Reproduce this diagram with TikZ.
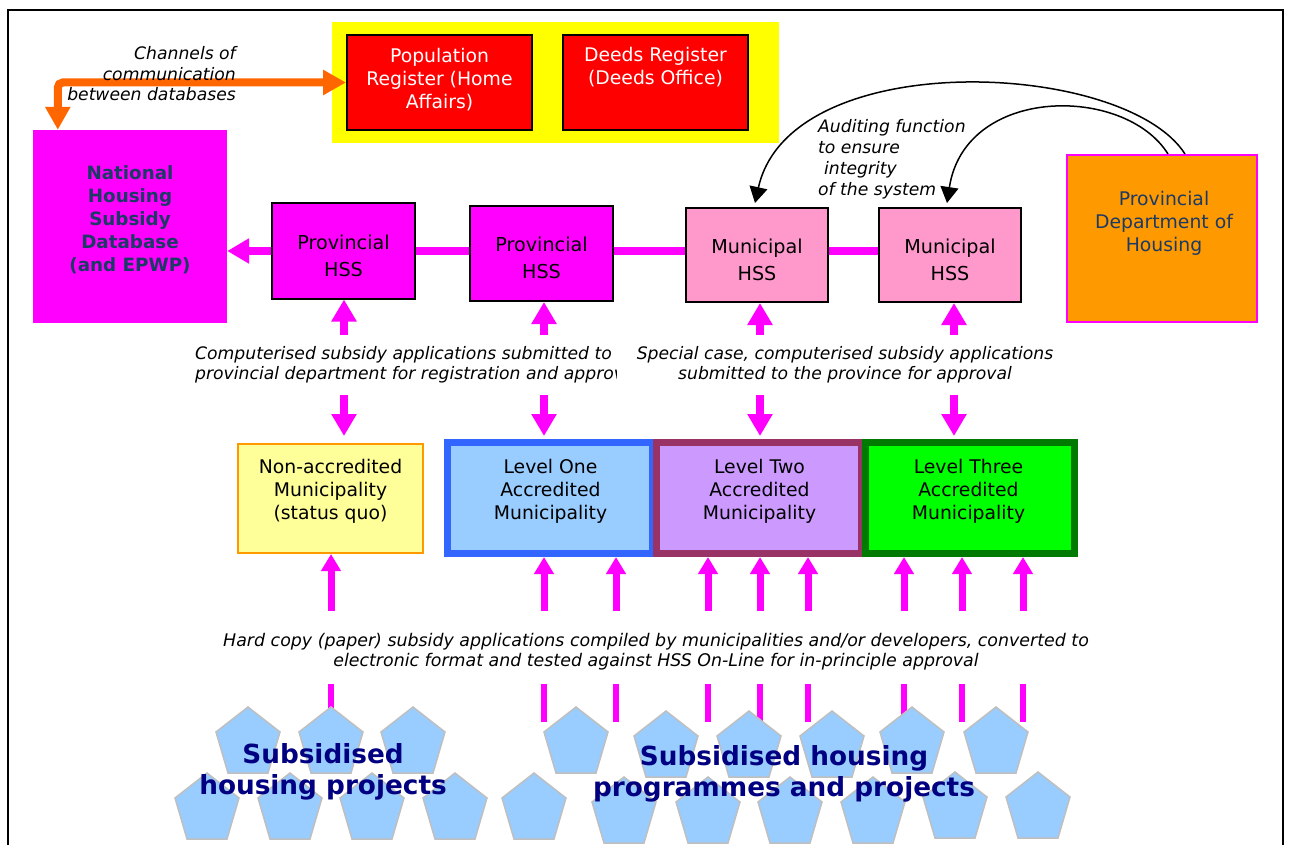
\documentclass[tikz,border=0pt]{standalone}
\usepackage{fontspec}
\setmainfont{DejaVu Sans}
\usetikzlibrary{arrows.meta,calc}

\definecolor{magentaC}{HTML}{FF00FF}
\definecolor{pinkC}{HTML}{FF99CC}
\definecolor{orangeC}{HTML}{FF9900}
\definecolor{arrowOrange}{HTML}{FF6600}
\definecolor{redC}{HTML}{FF0000}
\definecolor{yellowC}{HTML}{FFFF00}
\definecolor{paleYellow}{HTML}{FFFF99}
\definecolor{skyC}{HTML}{99CCFF}
\definecolor{lavenderC}{HTML}{CC99FF}
\definecolor{limeC}{HTML}{00FF00}
\definecolor{blueEdge}{HTML}{3366FF}
\definecolor{plumEdge}{HTML}{993366}
\definecolor{greenEdge}{HTML}{007A00}
\definecolor{navyText}{HTML}{000080}
\definecolor{slateText}{HTML}{1C3A66}
\definecolor{pentEdge}{HTML}{BFBFBF}

\tikzset{
  housepent/.pic={
    \filldraw[draw=pentEdge, fill=skyC, line width=1.5pt]
      (0,0) -- (32,25) -- (20,66) -- (-20,66) -- (-32,25) -- cycle;
  }
}

\begin{document}
\begin{tikzpicture}[x=1pt,y=-1pt,
  plain/.style={inner sep=0pt},
  regbox/.style={plain, draw=black, line width=2pt, fill=redC, minimum width=185pt, minimum height=95pt},
  hssbox/.style={plain, draw=black, line width=2pt, minimum width=143pt, minimum height=95pt},
  lvlbox/.style={plain, line width=7pt, minimum width=205pt, minimum height=111pt},
  rtxt/.style={plain, align=center, font=\fontsize{18.8}{23}\selectfont},
  htxt/.style={plain, align=center, font=\fontsize{19.2}{27}\selectfont},
  itxt/.style={plain, font=\fontsize{17.2}{20.5}\selectfont\itshape},
  bigtxt/.style={plain, align=center, text=navyText, font=\fontsize{26.3}{31}\selectfont\bfseries},
  magbar/.style={draw=magentaC, line width=8pt},
  magup/.style={magbar, -{Triangle[length=22pt,width=24pt]}},
  maglow/.style={draw=magentaC, line width=7pt, -{Triangle[length=17pt,width=19pt]}},
  stub/.style={draw=magentaC, line width=6.5pt},
  audit/.style={draw=black, line width=1.5pt, -{Triangle[length=16pt,width=18pt]}},
  chan/.style={draw=arrowOrange, line width=8pt, rounded corners=5pt,
    {Triangle[length=23pt,width=24pt]}-{Triangle[length=23pt,width=24pt]}}
]
\useasboundingbox (0,0) rectangle (1291,845);

% frame (open at the bottom)
\draw[line width=2.5pt] (8,846) -- (8,10) -- (1283,10) -- (1283,846);

% external registers
\node[plain, fill=yellowC, minimum width=447pt, minimum height=121pt] (dbs) at (555.5,82.5) {};
\node[regbox] (popreg) at (439.5,82.5) {};
\node[rtxt, text=white] (popregt) at (439.5,79.5) {Population\\Register (Home\\Affairs)};
\node[regbox] (deeds) at (655.5,82.5) {};
\node[rtxt, text=white] (deedst) at (655.5,67) {Deeds Register\\(Deeds Office)};

% national database
\node[plain, fill=magentaC, minimum width=194pt, minimum height=193pt] (nhsd) at (130,226.5) {};
\node[plain, align=center, text=slateText, font=\fontsize{18.3}{23}\selectfont\bfseries] (nhsdt) at (130,220)
  {National\\Housing\\Subsidy\\Database\\(and EPWP)};

% channels of communication
\draw[chan] (popreg.west) -| ($(nhsd.north west)+(25,0)$);
\node[itxt, align=right, anchor=east] (chantxt) at (236,73.6) {Channels of\\communication\\between databases};

% HSS row
\node[hssbox, fill=magentaC] (phss1) at (343.5,251) {};
\node[htxt] (phss1t) at (343.5,256) {Provincial\\HSS};
\node[hssbox, fill=magentaC] (phss2) at (541.5,253.5) {};
\node[htxt] (phss2t) at (541.5,258) {Provincial\\HSS};
\node[hssbox, fill=pinkC, minimum width=142pt, minimum height=94pt] (mhss1) at (757,255) {};
\node[htxt] (mhss1t) at (757,260) {Municipal\\HSS};
\node[hssbox, fill=pinkC, minimum width=142pt, minimum height=94pt] (mhss2) at (950,255) {};
\node[htxt] (mhss2t) at (950,260) {Municipal\\HSS};

\draw[magbar] (phss1.east) -- (phss2.west |- phss1.east);
\draw[magbar] (phss2.east |- phss1.east) -- (mhss1.west |- phss1.east);
\draw[magbar] (mhss1.east |- phss1.east) -- (mhss2.west |- phss1.east);
\draw[magup] (phss1.west) -- (nhsd.east |- phss1.west);

% provincial department and auditing
\node[plain, draw=magentaC, line width=2pt, fill=orangeC, minimum width=190pt, minimum height=167pt] (pdh) at (1162,238.5) {};
\node[rtxt, text=slateText] (pdht) at (1164,223.5) {Provincial\\Department of\\Housing};
\draw[audit] ($(pdh.north)+(23,0)$) .. controls (1125,60) and (790,45) .. ($(mhss1.north)+(-2,-4)$);
\draw[audit] ($(pdh.north)+(6,0)$) .. controls (1125,85) and (965,85) .. ($(mhss2.north)+(-3,-4)$);
\node[itxt, align=left, anchor=west, font=\fontsize{17.2}{21}\selectfont\itshape] (audtxt) at (818,159)
  {Auditing function\\to ensure\\\hspace*{6pt}integrity\\of the system};

% computerised applications
\node[itxt, align=left, anchor=west] (apptxt1) at (195,364.8)
  {Computerised subsidy applications submitted to\\provincial department for registration and approval};
\node[itxt, align=center, fill=white, inner xsep=20pt] (apptxt2) at (845,364.8)
  {Special case, computerised subsidy applications\\submitted to the province for approval};

% municipalities
\node[plain, draw=orangeC, line width=2pt, fill=paleYellow, minimum width=185pt, minimum height=109pt] (nonacc) at (330.5,498.5) {};
\node[rtxt] (nonacct) at (330.5,491) {Non-accredited\\Municipality\\(status quo)};
\node[lvlbox, draw=blueEdge, fill=skyC] (lvl1) at (550,498) {};
\node[rtxt] (lvl1t) at (550.5,491) {Level One\\Accredited\\Municipality};
\node[lvlbox, draw=plumEdge, fill=lavenderC] (lvl2) at (759,498) {};
\node[rtxt] (lvl2t) at (759.5,491) {Level Two\\Accredited\\Municipality};
\node[lvlbox, draw=greenEdge, fill=limeC, minimum width=209pt] (lvl3) at (970,498) {};
\node[rtxt] (lvl3t) at (968.5,491) {Level Three\\Accredited\\Municipality};

% arrows between the HSS row and the municipalities
\coordinate (up1) at (344,335);
\coordinate (up2) at (544,335);
\coordinate (up3) at (760,335);
\coordinate (up4) at (954,335);
\draw[magup] (up1) -- (up1 |- phss1.south);
\draw[magup] (up2) -- (up2 |- phss2.south);
\draw[magup] (up3) -- (up3 |- mhss1.south);
\draw[magup] (up4) -- (up4 |- mhss2.south);
\coordinate (dn1) at (344,395);
\coordinate (dn2) at (544,395);
\coordinate (dn3) at (760,395);
\coordinate (dn4) at (954,395);
\draw[magup, shorten >=7pt] (dn1) -- (dn1 |- nonacc.north);
\draw[magup, shorten >=3pt] (dn2) -- (dn2 |- lvl1.north);
\draw[magup, shorten >=3pt] (dn3) -- (dn3 |- lvl2.north);
\draw[magup, shorten >=3pt] (dn4) -- (dn4 |- lvl3.north);

% hard copy applications
\foreach \lx/\tgt in {331/nonacc, 544/lvl1, 616/lvl1, 708/lvl2, 760/lvl2, 808/lvl2, 904/lvl3, 962/lvl3, 1023/lvl3} {
  \coordinate (lo\lx) at (\lx,611);
  \draw[maglow] (lo\lx) -- (lo\lx |- \tgt.south);
}
\node[itxt, align=center, font=\fontsize{17.4}{20.5}\selectfont\itshape] (papertxt) at (656,651.5)
  {Hard copy (paper) subsidy applications compiled by municipalities and/or developers, converted to\\electronic format and tested against HSS On-Line for in-principle approval};

\foreach \sx in {331, 544, 616, 708, 760, 808, 904, 962, 1023}
  \draw[stub] (\sx,684) -- (\sx,722);

% housing projects
\foreach \px/\py in {248/707, 331/707, 413/707,
                     576/707, 666/711, 749/711, 832/711, 912/707, 996/707}
  \pic at (\px,\py) {housepent};
\foreach \px/\py in {207/773, 290/773, 372/773, 455/773,
                     534/773, 624/777, 708/777, 790/777, 873/777, 955/772, 1038/772}
  \pic at (\px,\py) {housepent};

\node[bigtxt] (proj1) at (323,772) {Subsidised\\housing projects};
\node[bigtxt] (proj2) at (784,773.5) {Subsidised housing\\programmes and projects};
\end{tikzpicture}
\end{document}
